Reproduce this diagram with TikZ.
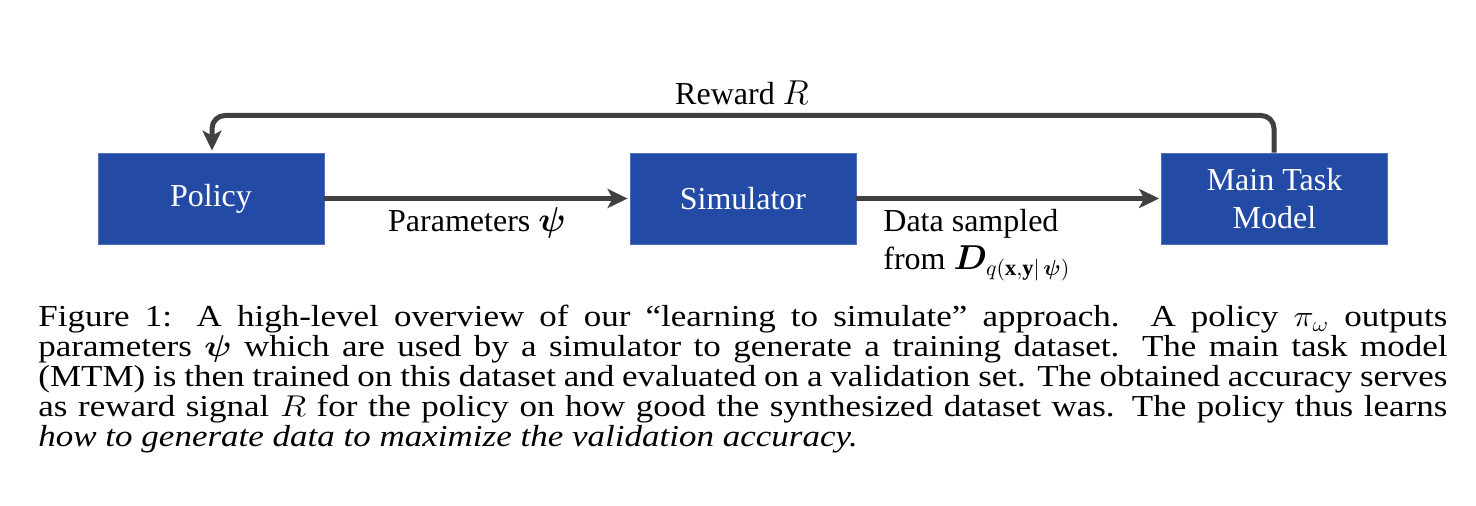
\documentclass[tikz,border=0pt]{standalone}
\usepackage{fontspec}
\usepackage{amsmath}
\usepackage{bm}
\usepackage{graphicx}
\setmainfont{Liberation Serif}
\usetikzlibrary{arrows.meta, positioning}
\definecolor{simblue}{HTML}{234BA6}
\definecolor{arrowgray}{HTML}{404040}
\tikzset{
  blockbox/.style={draw=simblue!80!white, line width=0.4pt, fill=simblue, text=white, minimum width=113pt, minimum height=45.5pt, inner sep=0pt, align=center, font=\fontsize{16}{19}\selectfont},
  lbl/.style={inner sep=0pt, align=left, font=\fontsize{16}{19}\selectfont},
  pto/.style={-{Stealth[length=10pt, width=9.5pt, inset=2.5pt]}, line width=2.5pt, arrowgray, shorten >=1pt},
  backpto/.style={pto, rounded corners=6.5pt}
}

\begin{document}
\begin{tikzpicture}[x=0.5pt, y=-0.5pt]
  \useasboundingbox (0,0) rectangle (1476,506);

  \node[blockbox] (policy) at (211,198.5) {Policy};
  \node[blockbox] (sim) at (743,198.5) {Simulator};
  \node[blockbox] (mtm) at (1274.5,198.5) {Main Task\\Model};

  \draw[pto] (policy) -- (sim);
  \draw[pto] (sim) -- (mtm);
  \coordinate (rr) at (1274,115.5);
  \coordinate (rl) at (212,115.5);
  \draw[backpto] (mtm.north -| rr) -- (rr) -- (rl) -- (rl |- policy.north);

  \node[lbl, anchor=base] (rewardlbl) at (742,105) {Reward $R$};
  \node[lbl, anchor=base] (paramlbl) at (477,232) {Parameters $\bm{\psi}$};
  \node[lbl, anchor=base west] (datalbl) at (883,270) {Data sampled\\from $\bm{D}_{q(\mathbf{x},\mathbf{y}|\,\bm{\psi})}$};

  % caption, squeezed a little in height as in the reference
  \node[inner sep=0pt, anchor=base west] (caption) at (38,327)
    {\scalebox{1}[0.87]{\parbox[t]{704.5pt}{\fontsize{17.5}{17.24}\selectfont\lineskiplimit=-\maxdimen
     Figure 1:  A high-level overview of our “learning to simulate” approach.  A policy $\pi_\omega$ outputs\linebreak
     parameters $\bm{\psi}$ which are used by a simulator to generate a training dataset.  The main task model\linebreak
     (MTM) is then trained on this dataset and evaluated on a validation set. The obtained accuracy serves\linebreak
     as reward signal $R$ for the policy on how good the synthesized dataset was. The policy thus learns\linebreak
     \emph{how to generate data to maximize the validation accuracy.}\par}}};
\end{tikzpicture}
\end{document}
